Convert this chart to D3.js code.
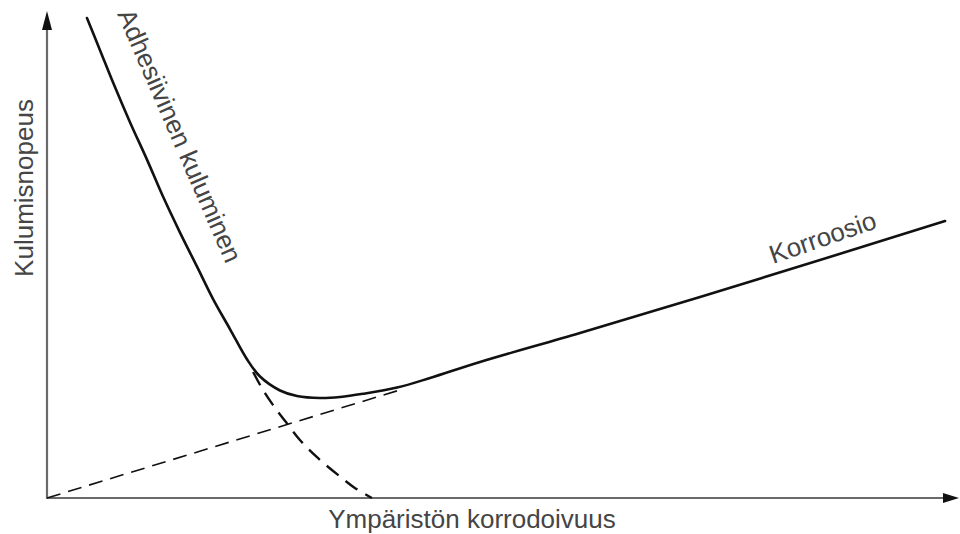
<!DOCTYPE html>
<html>
<head>
<meta charset="utf-8">
<script src="https://cdn.jsdelivr.net/npm/d3@7"></script>
<style>
  html, body { margin: 0; padding: 0; background: #fff; }
  svg { display: block; }
  text { font-family: "Liberation Sans", Arial, Helvetica, sans-serif; fill: #454545; }
</style>
</head>
<body>
<svg id="chart" width="960" height="534"></svg>
<script>
// Total wear rate (solid curve): [environment corrosivity, wear rate]
const totalX = [4.44, 5.89, 7.33, 9.22, 11.11, 12.89, 14.78, 16.67, 18.44, 20.33, 22.22, 23.67, 25.89, 27.78, 30.33, 32.56, 35.11, 38.89, 42.56, 48.11, 59.22, 72.56, 85.89, 99.78];
const totalY = [100.0, 93.3, 86.6, 78.3, 70.5, 62.8, 55.3, 48.2, 41.5, 35.2, 28.9, 25.3, 22.4, 21.25, 20.83, 21.04, 21.7, 23.0, 25.0, 28.33, 34.38, 41.88, 49.58, 57.71];
// Adhesive wear continuation (dashed)
const adhesiveX = [22.9, 24.0, 25.1, 26.8, 28.1, 30.0, 32.6, 34.2, 36.1];
const adhesiveY = [26.25, 22.5, 19.4, 15.2, 12.1, 8.5, 4.4, 2.1, 0];
// Corrosion wear (dashed straight line)
const corrosionX = [0, 39.2];
const corrosionY = [0, 22.5];

const labels = {
  yAxis: "Kulumisnopeus",
  xAxis: "Ympäristön korrodoivuus",
  adhesive: "Adhesiivinen kuluminen",
  corrosion: "Korroosio"
};

const svg = d3.select("#chart");
const x = d3.scaleLinear().domain([0, 100]).range([47, 947]);
const y = d3.scaleLinear().domain([0, 100]).range([498, 18]);

const toPts = (xs, ys) => xs.map((v, i) => [v, ys[i]]);
const line = d3.line().x(d => x(d[0])).y(d => y(d[1])).curve(d3.curveCatmullRom.alpha(0.5));

// Axes
const axisColor = "#6a6a6a";
svg.append("line")
  .attr("x1", x(0)).attr("y1", y(0)).attr("x2", 950).attr("y2", y(0))
  .attr("stroke", axisColor).attr("stroke-width", 2.2);
svg.append("line")
  .attr("x1", x(0)).attr("y1", y(0) + 1).attr("x2", x(0)).attr("y2", 26)
  .attr("stroke", axisColor).attr("stroke-width", 2.2);
// arrow heads
svg.append("path")
  .attr("d", `M${x(0)},11 L${x(0) - 5},30 L${x(0) + 5},30 Z`)
  .attr("fill", "#111");
svg.append("path")
  .attr("d", `M959,${y(0)} L943,${y(0) - 5} L943,${y(0) + 5} Z`)
  .attr("fill", "#111");

// Corrosion dashed line
svg.append("path")
  .datum(toPts(corrosionX, corrosionY))
  .attr("d", d3.line().x(d => x(d[0])).y(d => y(d[1])))
  .attr("fill", "none").attr("stroke", "#111").attr("stroke-width", 1.6)
  .attr("stroke-dasharray", "14,8");

// Adhesive dashed continuation
svg.append("path")
  .datum(toPts(adhesiveX, adhesiveY))
  .attr("d", line)
  .attr("fill", "none").attr("stroke", "#111").attr("stroke-width", 2.4)
  .attr("stroke-dasharray", "15,9");

// Total wear (solid)
svg.append("path")
  .datum(toPts(totalX, totalY))
  .attr("d", line)
  .attr("fill", "none").attr("stroke", "#111").attr("stroke-width", 2.6)
  .attr("stroke-linecap", "round");

// Labels
svg.append("text")
  .attr("transform", "translate(33,188) rotate(-90)")
  .attr("text-anchor", "middle")
  .attr("font-size", 26)
  .text(labels.yAxis);

svg.append("text")
  .attr("x", 472).attr("y", 528)
  .attr("text-anchor", "middle")
  .attr("font-size", 26)
  .text(labels.xAxis);

svg.append("text")
  .attr("transform", "translate(117,14) rotate(66.5)")
  .attr("text-anchor", "start")
  .attr("font-size", 26)
  .text(labels.adhesive);

svg.append("text")
  .attr("transform", "translate(773,264) rotate(-19)")
  .attr("text-anchor", "start")
  .attr("font-size", 26)
  .text(labels.corrosion);
</script>
</body>
</html>
